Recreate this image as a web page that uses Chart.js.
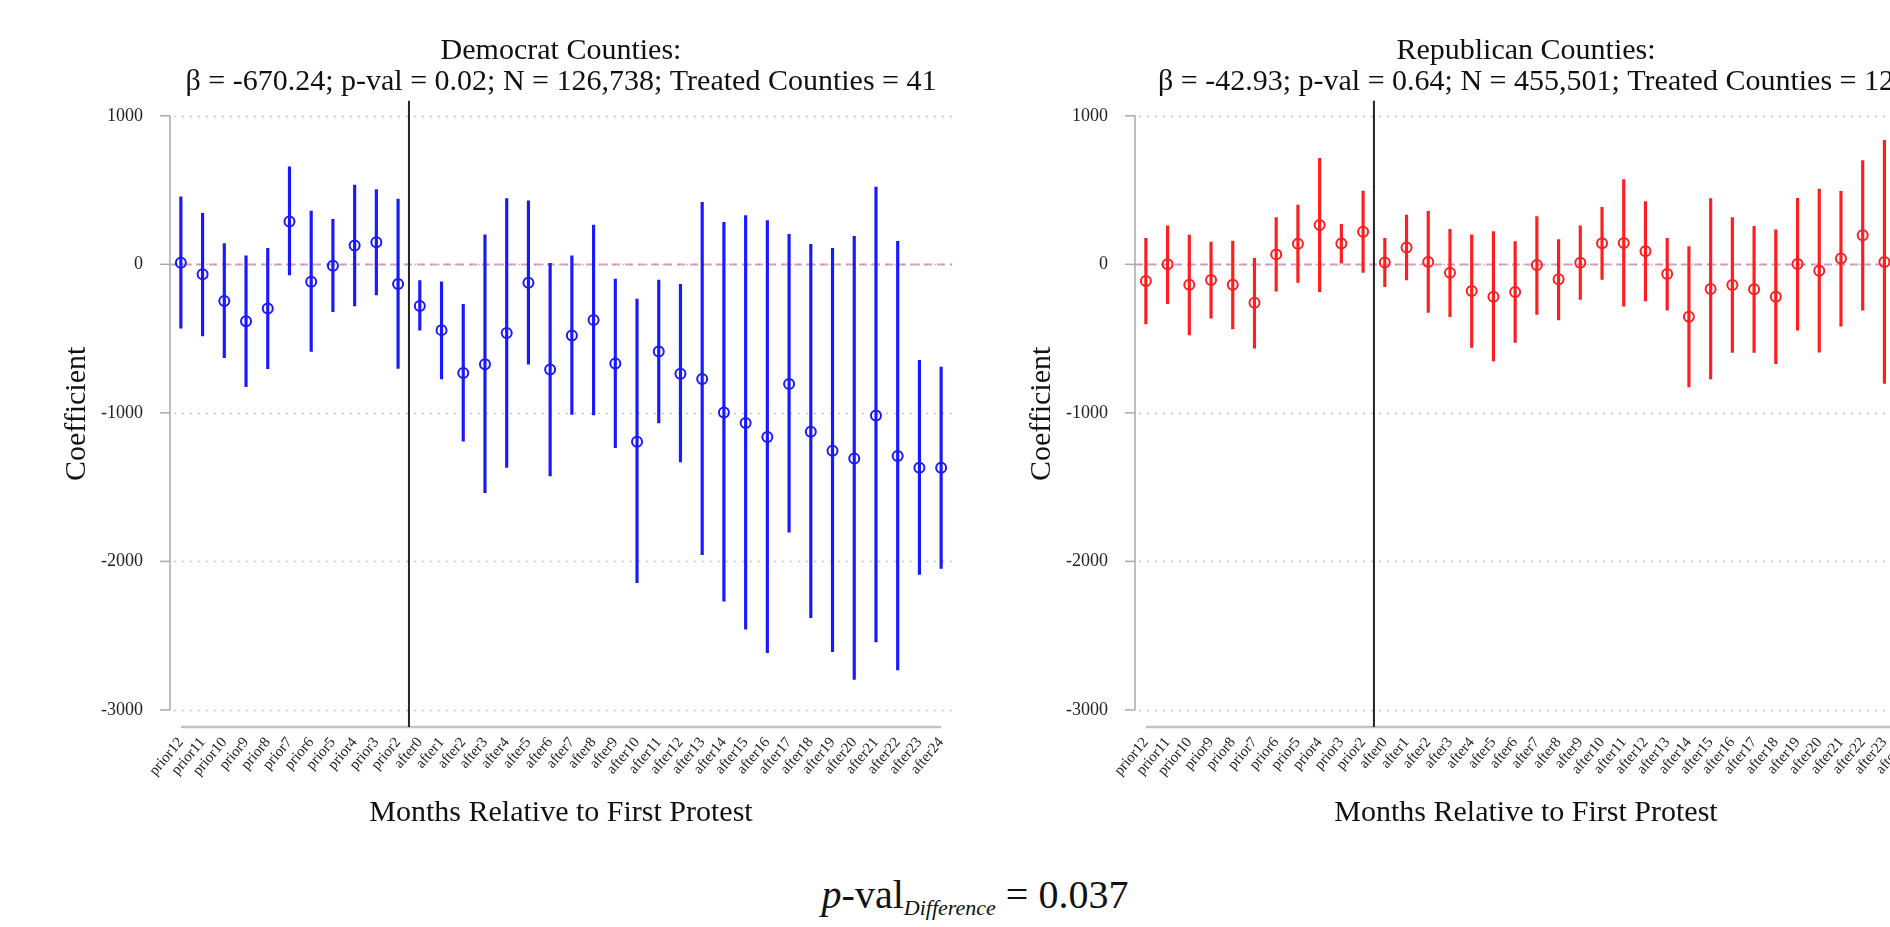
<!DOCTYPE html>
<html>
<head>
<meta charset="utf-8">
<script src="https://cdn.jsdelivr.net/npm/chart.js@4.4.1/dist/chart.umd.min.js"></script>
<style>
html, body { margin: 0; padding: 0; background: #fff; overflow: hidden; width: 1890px; height: 927px; }
.panel { position: absolute; top: 0; width: 965px; height: 850px; }
#footer { position: absolute; left: 0; width: 1950px; top: 873px; text-align: center;
  font-family: "Liberation Serif", "Times New Roman", serif; font-size: 40px; line-height: 44px; color: #111; }
#footer sub { font-size: 22px; vertical-align: -7px; }
</style>
</head>
<body>
<div class="panel" style="left:0"><canvas id="demChart"></canvas></div>
<div class="panel" style="left:965px"><canvas id="repChart"></canvas></div>
<div id="footer"><i>p</i>-val<sub><i>Difference</i></sub> = 0.037</div>
<script>
const FONT = '"Liberation Serif", "Times New Roman", serif';

const labels = ['prior12','prior11','prior10','prior9','prior8','prior7','prior6','prior5','prior4','prior3','prior2',
  'after0','after1','after2','after3','after4','after5','after6','after7','after8','after9','after10','after11',
  'after12','after13','after14','after15','after16','after17','after18','after19','after20','after21','after22',
  'after23','after24'];
const yTicks = [-3000, -2000, -1000, 0, 1000];

// Democrat counties
const demCoef = [11, -67, -247, -383, -298, 289, -117, -9, 126, 148, -132,
  -281, -443, -731, -672, -463, -124, -708, -479, -375, -668, -1195, -587, -736, -772,
  -997, -1069, -1163, -805, -1127, -1255, -1307, -1017, -1291, -1370, -1370];
const demLo = [-430, -482, -628, -823, -702, -72, -587, -318, -280, -206, -700,
  -443, -771, -1190, -1538, -1368, -672, -1424, -1011, -1014, -1234, -2143, -1068, -1330, -1955,
  -2267, -2457, -2614, -1803, -2379, -2608, -2794, -2543, -2731, -2087, -2047];
const demHi = [455, 343, 139, 58, 108, 657, 359, 303, 534, 504, 440,
  -110, -117, -270, 198, 443, 427, 7, 58, 265, -99, -234, -106, -135, 418,
  283, 328, 295, 202, 135, 108, 189, 520, 155, -646, -691];

// Republican counties (after24 is cut off in the picture)
const repCoef = [-112, 0, -137, -105, -137, -258, 67, 139, 265, 141, 220,
  13, 114, 16, -56, -180, -218, -187, -4, -101, 11, 142, 144, 88, -65,
  -353, -166, -139, -168, -218, 2, -43, 40, 196, 16, null];
const repLo = [-401, -265, -475, -363, -435, -565, -180, -121, -184, 7, -54,
  -150, -105, -324, -353, -560, -650, -526, -337, -375, -236, -101, -281, -247, -308,
  -825, -771, -593, -593, -669, -443, -591, -416, -308, -802, null];
const repHi = [175, 260, 197, 150, 157, 40, 314, 399, 713, 269, 493,
  175, 332, 356, 236, 198, 220, 153, 322, 166, 259, 384, 570, 423, 175,
  119, 443, 315, 256, 232, 445, 506, 492, 699, 835, null];

const eventAt = labels.indexOf('after0') - 0.5;

// axes, grid and reference lines drawn Stata-style
const guides = {
  id: 'guides',
  beforeDatasetsDraw(chart) {
    const {ctx, chartArea: a, scales: {x, y}} = chart;
    ctx.save();
    ctx.lineWidth = 1.5;
    ctx.strokeStyle = '#c6c6c6';
    ctx.setLineDash([2, 6]);
    yTicks.forEach(v => {
      const py = Math.round(y.getPixelForValue(v)) + 0.5;
      ctx.beginPath(); ctx.moveTo(a.left + 4, py); ctx.lineTo(a.right, py); ctx.stroke();
    });
    // zero line
    const y0 = Math.round(y.getPixelForValue(0)) + 0.5;
    ctx.setLineDash([8, 5]);
    ctx.strokeStyle = 'rgba(200,130,175,0.75)';
    ctx.lineWidth = 2;
    ctx.beginPath(); ctx.moveTo(a.left, y0); ctx.lineTo(a.right, y0); ctx.stroke();
    // y axis with ticks
    ctx.setLineDash([]);
    ctx.strokeStyle = '#a9a9a9';
    ctx.lineWidth = 1.5;
    const yt = y.getPixelForValue(yTicks[yTicks.length - 1]);
    const yb = y.getPixelForValue(yTicks[0]);
    ctx.beginPath(); ctx.moveTo(a.left, yt); ctx.lineTo(a.left, yb); ctx.stroke();
    yTicks.forEach(v => {
      const py = y.getPixelForValue(v);
      ctx.beginPath(); ctx.moveTo(a.left - 10, py); ctx.lineTo(a.left, py); ctx.stroke();
    });
    // x axis
    ctx.strokeStyle = '#c2c2c2';
    ctx.lineWidth = 2.5;
    ctx.beginPath();
    ctx.moveTo(x.getPixelForValue(0), a.bottom);
    ctx.lineTo(x.getPixelForValue(labels.length - 1), a.bottom);
    ctx.stroke();
    // first protest
    const xe = x.getPixelForValue(eventAt);
    ctx.strokeStyle = '#222';
    ctx.lineWidth = 2;
    ctx.beginPath(); ctx.moveTo(xe, a.top); ctx.lineTo(xe, a.bottom); ctx.stroke();
    ctx.restore();
  }
};

function makeChart(id, coef, lo, hi, color, title) {
  return new Chart(document.getElementById(id), {
    type: 'bar',
    data: {
      labels: labels,
      datasets: [
        {
          type: 'line', data: coef, showLine: false, order: 1,
          pointRadius: 5, pointHoverRadius: 5, pointBorderWidth: 2,
          pointBorderColor: color, pointBackgroundColor: 'rgba(0,0,0,0)'
        },
        {
          type: 'bar', data: lo.map((v, i) => v == null ? null : [v, hi[i]]), order: 2,
          backgroundColor: color, barThickness: 2.5, grouped: false
        }
      ]
    },
    options: {
      responsive: true,
      maintainAspectRatio: false,
      animation: false,
      layout: {padding: {left: 0, right: 13, top: 0, bottom: 0}},
      plugins: {
        legend: {display: false},
        tooltip: {enabled: false},
        title: {
          display: true, text: title, fullSize: false, color: '#111',
          font: {family: FONT, size: 30, weight: 'normal', lineHeight: 1.03},
          padding: {top: 36, bottom: 3}
        }
      },
      scales: {
        x: {
          offset: true,
          grid: {display: false, drawTicks: false},
          border: {display: false},
          ticks: {autoSkip: false, maxRotation: 50, minRotation: 50, padding: 7, color: '#222',
            font: {family: FONT, size: 15}},
          title: {display: true, text: 'Months Relative to First Protest', color: '#111',
            font: {family: FONT, size: 30}, padding: {top: 0, bottom: 19}},
          afterFit(s) { s.height = 123; }
        },
        y: {
          min: -3115, max: 1101,
          grid: {display: false, drawTicks: false},
          border: {display: false},
          afterBuildTicks(s) { s.ticks = yTicks.map(v => ({value: v})); },
          ticks: {padding: 27, color: '#222', font: {family: FONT, size: 18},
            callback: v => String(v)},
          title: {display: true, text: 'Coefficient', color: '#111',
            font: {family: FONT, size: 30}, padding: {top: 59, bottom: 0}},
          afterFit(s) { s.width = 170; }
        }
      }
    },
    plugins: [guides]
  });
}

makeChart('demChart', demCoef, demLo, demHi, 'rgb(25,25,255)',
  ['Democrat Counties:', 'β = -670.24; p-val = 0.02; N = 126,738; Treated Counties = 41']);
makeChart('repChart', repCoef, repLo, repHi, 'rgb(255,30,30)',
  ['Republican Counties:', 'β = -42.93; p-val = 0.64; N = 455,501; Treated Counties = 12']);
</script>
</body>
</html>
